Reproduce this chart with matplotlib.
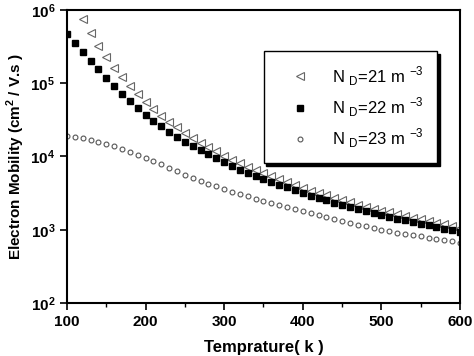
import numpy as np
import matplotlib
matplotlib.use('Agg')
import matplotlib.pyplot as plt
from matplotlib.ticker import FixedLocator, MultipleLocator

plt.rcParams['font.family'] = 'Liberation Sans'
plt.rcParams['mathtext.fontset'] = 'custom'
plt.rcParams['mathtext.rm'] = 'Liberation Sans:normal'
plt.rcParams['mathtext.bf'] = 'Liberation Sans:bold'

# temperature grid (K)
T_all = np.arange(100, 601, 10)
T_21 = np.arange(120, 601, 10)

# log10 of electron mobility (cm^2/V.s)
log_mu_21 = [5.873, 5.691, 5.514, 5.355, 5.214, 5.083, 4.960, 4.846, 4.742, 4.647,
             4.556, 4.474, 4.397, 4.324, 4.252, 4.188, 4.128, 4.070, 4.010, 3.957,
             3.905, 3.862, 3.815, 3.776, 3.733, 3.690, 3.651, 3.614, 3.572, 3.535,
             3.502, 3.469, 3.432, 3.404, 3.376, 3.343, 3.314, 3.286, 3.258, 3.238,
             3.212, 3.188, 3.165, 3.141, 3.121, 3.095, 3.072, 3.050, 3.030]
log_mu_22 = [5.669, 5.555, 5.432, 5.310, 5.192, 5.074, 4.960, 4.851, 4.751, 4.656,
             4.569, 4.488, 4.410, 4.338, 4.270, 4.202, 4.143, 4.084, 4.030, 3.975,
             3.920, 3.870, 3.820, 3.779, 3.735, 3.698, 3.657, 3.616, 3.579, 3.543,
             3.502, 3.466, 3.434, 3.402, 3.366, 3.339, 3.312, 3.280, 3.252, 3.225,
             3.198, 3.178, 3.153, 3.130, 3.107, 3.084, 3.064, 3.039, 3.016, 2.995,
             2.975]
log_mu_23 = [4.285, 4.270, 4.252, 4.229, 4.202, 4.170, 4.138, 4.102, 4.065, 4.025,
             3.985, 3.939, 3.893, 3.846, 3.799, 3.752, 3.712, 3.670, 3.630, 3.590,
             3.552, 3.516, 3.487, 3.455, 3.425, 3.398, 3.371, 3.343, 3.313, 3.283,
             3.253, 3.224, 3.196, 3.170, 3.142, 3.117, 3.092, 3.068, 3.045, 3.022,
             3.000, 2.980, 2.961, 2.943, 2.926, 2.908, 2.891, 2.874, 2.857, 2.840,
             2.822]

labels = [r'N $_{\mathrm{D}}$=21 m $^{\mathrm{-3}}$',
          r'N $_{\mathrm{D}}$=22 m $^{\mathrm{-3}}$',
          r'N $_{\mathrm{D}}$=23 m $^{\mathrm{-3}}$']

fig = plt.figure(figsize=(4.74, 3.56), dpi=100)
ax = fig.add_axes([0.1414, 0.149, 0.829, 0.823])

ax.plot(T_21, 10**np.array(log_mu_21), ls='none', marker='<', ms=5.5,
        mfc='white', mec='#666666', mew=0.8, label=labels[0])
ax.plot(T_all, 10**np.array(log_mu_22), ls='none', marker='s', ms=5,
        mfc='black', mec='black', label=labels[1])
ax.plot(T_all, 10**np.array(log_mu_23), ls='none', marker='o', ms=3.5,
        mfc='white', mec='#555555', mew=0.8, label=labels[2])

ax.set_yscale('log')
ax.set_xlim(100, 600)
ax.set_ylim(1e2, 1e6)

ax.xaxis.set_major_locator(MultipleLocator(100))
ax.xaxis.set_minor_locator(MultipleLocator(50))
decades = [1e2, 1e3, 1e4, 1e5, 1e6]
ax.yaxis.set_major_locator(FixedLocator(decades))
ax.yaxis.set_minor_locator(FixedLocator([]))
ax.set_yticklabels([r'$\mathbf{10^{%d}}$' % int(np.log10(d)) for d in decades])

ax.tick_params(axis='both', which='major', direction='out', length=5, width=1.2,
               labelsize=11, top=False, right=False)
ax.tick_params(axis='x', which='minor', direction='out', length=3, width=1.0)
for lab in ax.get_xticklabels():
    lab.set_fontweight('bold')
for s in ax.spines.values():
    s.set_linewidth(1.5)

ax.set_xlabel('Temprature( k )', fontsize=12, fontweight='bold', labelpad=8)
ax.set_ylabel(r'Electron Mobility (cm$^{\mathbf{2}}$ / V.s )', fontsize=11,
              fontweight='bold', labelpad=2)

leg = ax.legend(loc='upper right', bbox_to_anchor=(0.942, 0.86), frameon=True,
                fancybox=False, shadow={'color': 'black', 'alpha': 1},
                edgecolor='black', fontsize=12, handlelength=2.7,
                handletextpad=0.6, borderpad=0.8, labelspacing=0.45,
                borderaxespad=0)
leg.get_frame().set_linewidth(1.0)
for t in leg.get_texts():
    t.set_fontweight('normal')

fig.savefig('out.png', dpi=100)
